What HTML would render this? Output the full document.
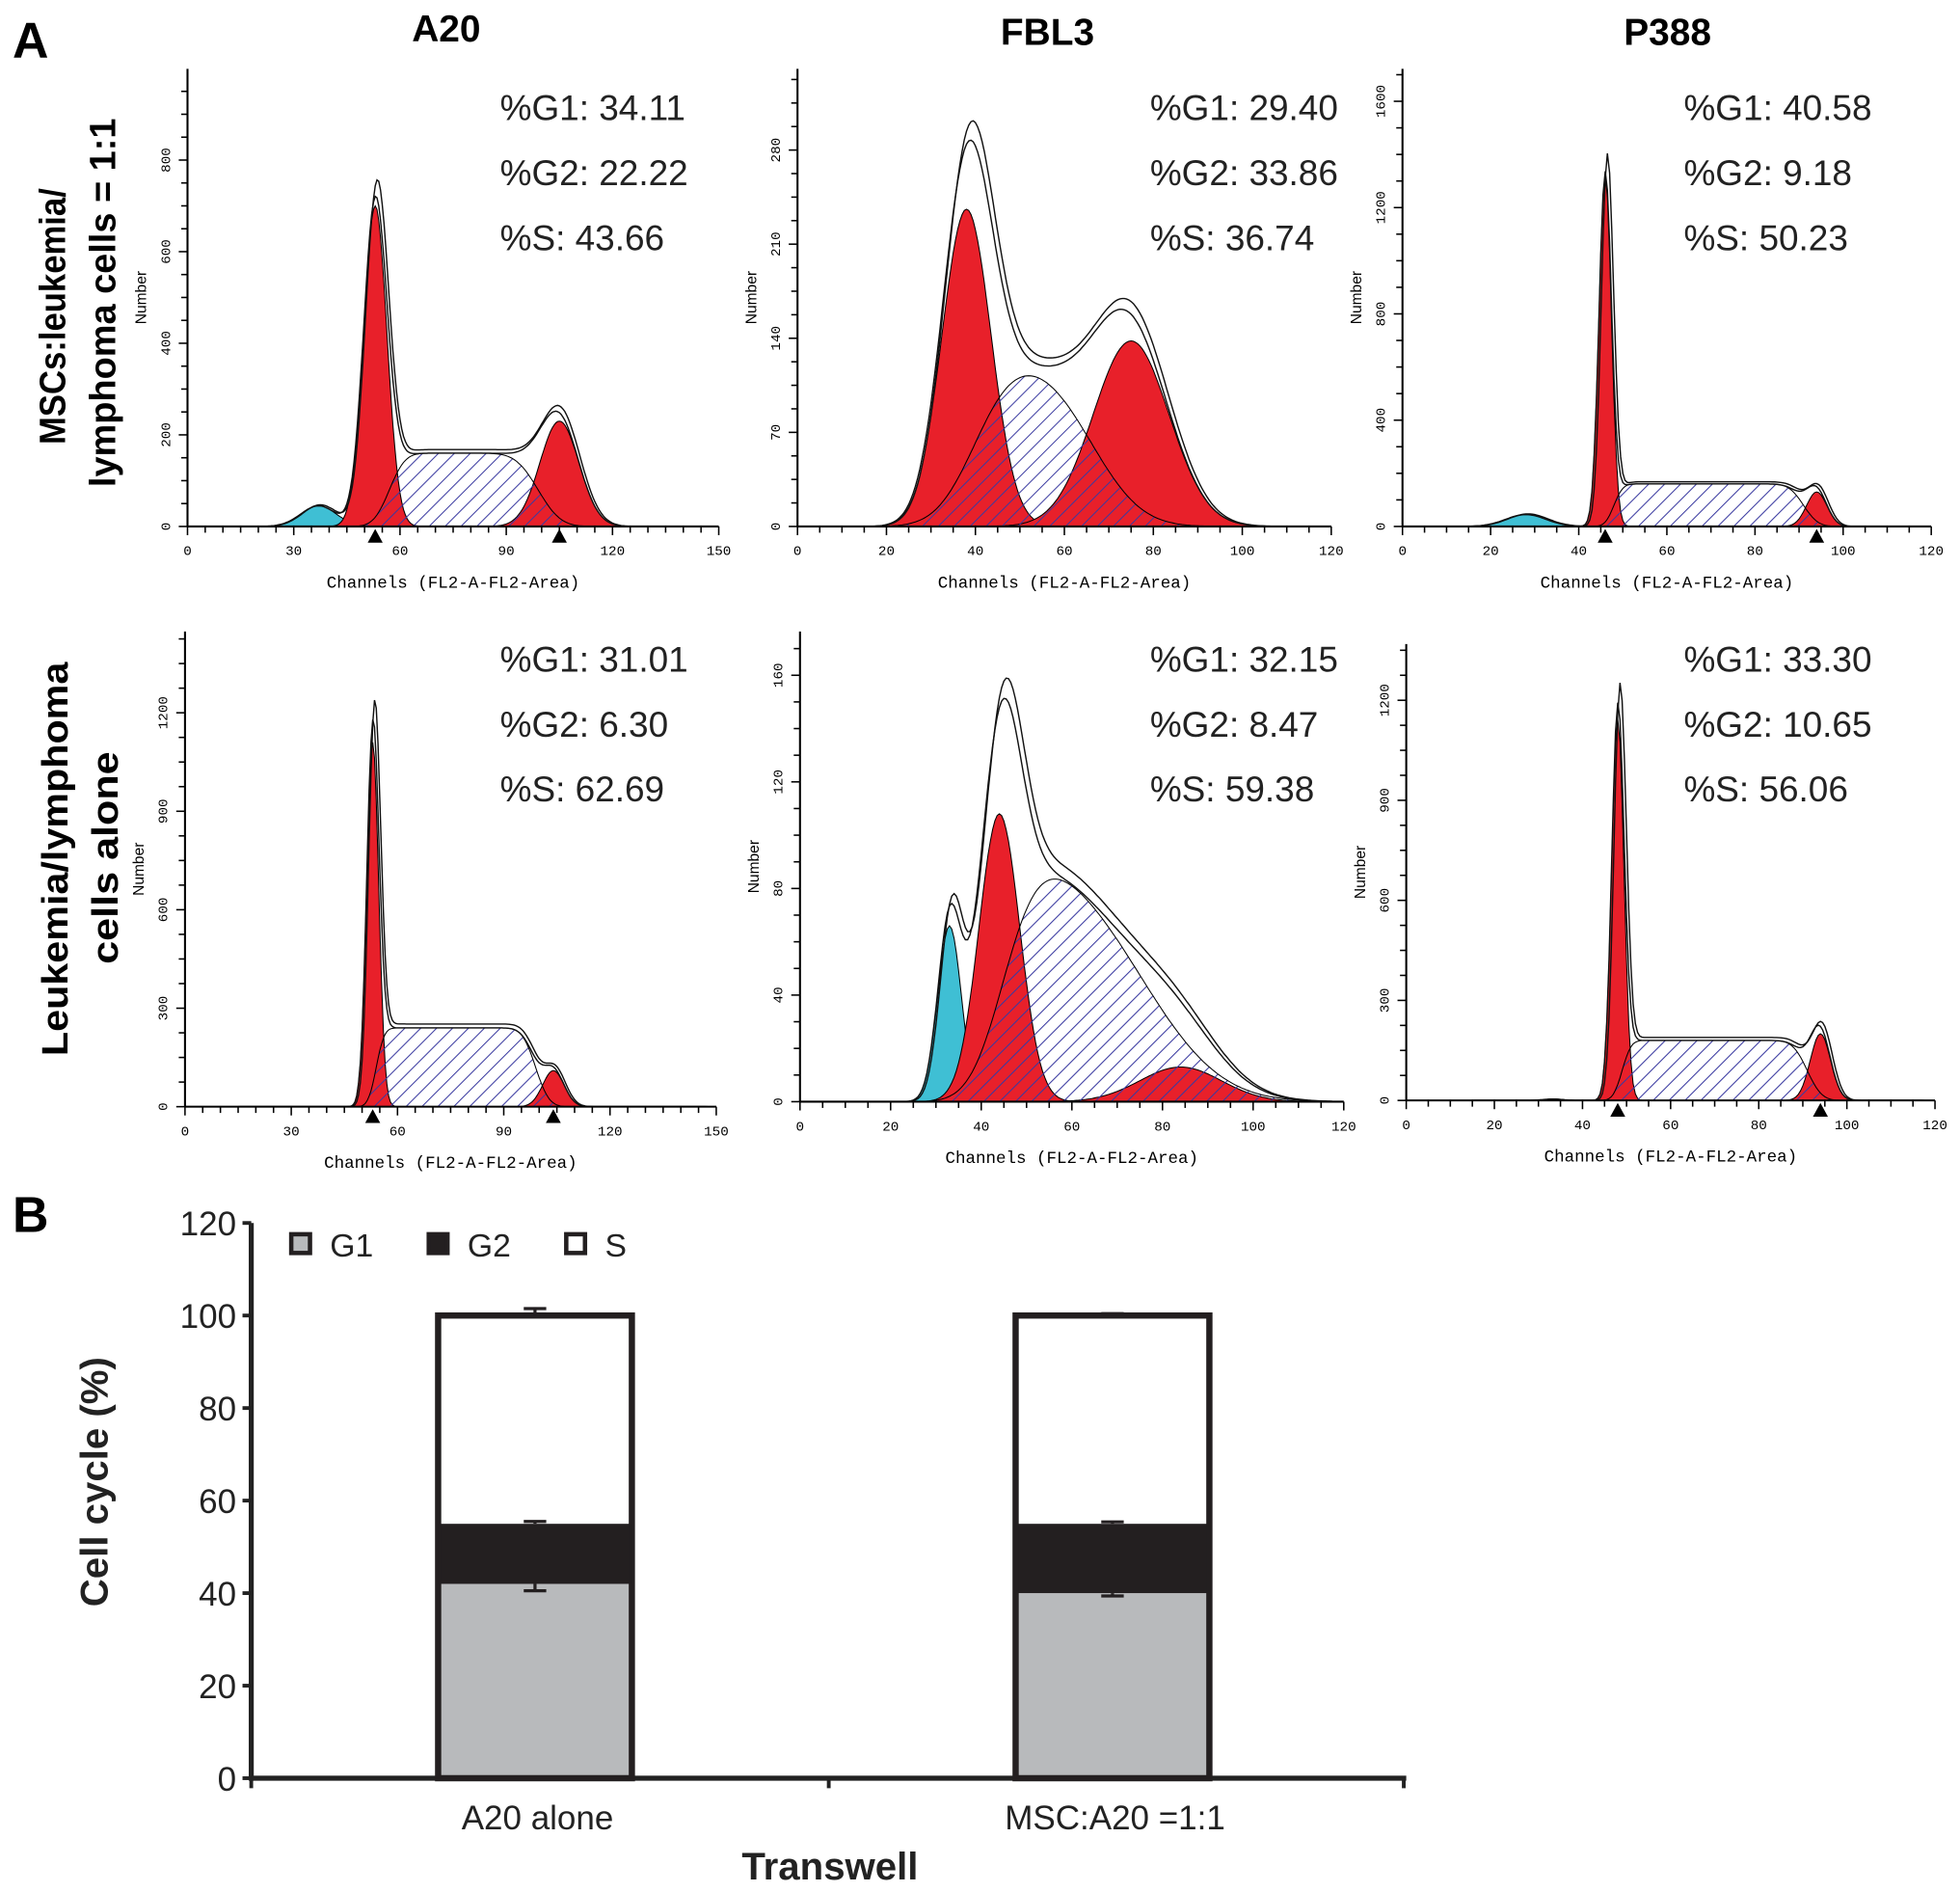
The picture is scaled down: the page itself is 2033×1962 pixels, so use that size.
<!DOCTYPE html>
<html><head><meta charset="utf-8">
<style>
html,body{margin:0;padding:0;background:#fff;}
svg{display:block;}
text{font-family:"Liberation Sans",sans-serif;}
.mono{font-family:"Liberation Mono","DejaVu Sans Mono",monospace;}
</style></head>
<body>
<svg id="fig" xmlns="http://www.w3.org/2000/svg" width="2033" height="1962" viewBox="0 0 1568 1513" preserveAspectRatio="none">
<defs>
<pattern id="hatch" patternUnits="userSpaceOnUse" width="9" height="9" patternTransform="rotate(45)">
<line x1="0" y1="0" x2="0" y2="9" stroke="#3a3aa0" stroke-width="1.6"/>
</pattern>
</defs>
<g id="partA">
<text x="10" y="46" font-size="40" font-weight="bold">A</text>
<text x="357" y="33" font-size="30" font-weight="bold" text-anchor="middle">A20</text>
<text x="838" y="36" font-size="30" font-weight="bold" text-anchor="middle">FBL3</text>
<text x="1334" y="36" font-size="30" font-weight="bold" text-anchor="middle">P388</text>
<text transform="translate(52,253) rotate(-90)" font-size="29" font-weight="bold" text-anchor="middle" textLength="205" lengthAdjust="spacingAndGlyphs">MSCs:leukemia/</text>
<text transform="translate(92,242) rotate(-90)" font-size="29" font-weight="bold" text-anchor="middle" textLength="295" lengthAdjust="spacingAndGlyphs">lymphoma cells = 1:1</text>
<text transform="translate(54,687) rotate(-90)" font-size="29" font-weight="bold" text-anchor="middle" textLength="315" lengthAdjust="spacingAndGlyphs">Leukemia/lymphoma</text>
<text transform="translate(94,686) rotate(-90)" font-size="29" font-weight="bold" text-anchor="middle" textLength="170" lengthAdjust="spacingAndGlyphs">cells alone</text>
<g id="hists"></g>
</g>
<g id="partB">
<text x="10" y="985" font-size="40" font-weight="bold">B</text>
<g id="bars"></g>
</g>
</svg>
<script>
// ---------- Part A histogram data (channel units / counts) ----------
const panelNames = ["a20-coculture","fbl3-coculture","p388-coculture","a20-alone","fbl3-alone","p388-alone"];
const statG1 = ["34.11","29.40","40.58","31.01","32.15","33.30"];
const statG2 = ["22.22","33.86","9.18","6.30","8.47","10.65"];
const statS  = ["43.66","36.74","50.23","62.69","59.38","56.06"];
// G1 peak: [mean, sd, amplitude]
const g1Peak = [[53,3.3,700],[38,5.5,236],[46,1.4,1320],[53,1.7,1110],[44,4.5,108],[48,1.4,1145]];
// G2 peak: [mean, sd, amplitude]
const g2Peak = [[105,5.5,230],[75,8.5,138],[94,2.3,130],[104,3,110],[84,9,13],[94,2.3,200]];
// S phase: [start, end, height, sdLeft, sdRight]
const sPhase = [[57,99,160,3.5,5],[40,66,125,7,9],[48,91,160,1.6,2.6],[54,99,240,1.8,3],[45,75,95,6,14],[49,91,180,1.6,2.6]];
// debris: [mean, sd, amplitude]
const debris = [[37,5,45],[0,1,0],[28,4.5,45],[0,1,0],[33,2.6,66],[33,2,4]];
const showMarkers = [true,false,true,true,false,true];
// axes tick labels
const xTickLabels = [[0,30,60,90,120,150],[0,20,40,60,80,100,120],[0,20,40,60,80,100,120],[0,30,60,90,120,150],[0,20,40,60,80,100,120],[0,20,40,60,80,100,120]];
const yTickLabels = [[0,200,400,600,800],[0,70,140,210,280],[0,400,800,1200,1600],[0,300,600,900,1200],[0,40,80,120,160],[0,300,600,900,1200]];
const xMax = [150,120,120,150,120,120];

// geometry (pixels in 1568x1513 space)
const geom = [
 {x0:150,x1:575,y0:421,top:55,sx:400,sy:86},
 {x0:638,x1:1065,y0:421,top:55,sx:920,sy:86},
 {x0:1122,x1:1545,y0:421,top:55,sx:1347,sy:86},
 {x0:148,x1:573,y0:885,top:505,sx:400,sy:527},
 {x0:640,x1:1075,y0:881,top:505,sx:920,sy:527},
 {x0:1125,x1:1548,y0:880,top:515,sx:1347,sy:527}
];
const NS="http://www.w3.org/2000/svg";
function mk(tag,attrs,parent){const e=document.createElementNS(NS,tag);for(const k in attrs)e.setAttribute(k,attrs[k]);if(parent)parent.appendChild(e);return e;}
function erf(x){const s=x<0?-1:1;x=Math.abs(x);const t=1/(1+0.3275911*x);const y=1-(((((1.061405429*t-1.453152027)*t)+1.421413741)*t-0.284496736)*t+0.254829592)*t*Math.exp(-x*x);return s*y;}
function Phi(z){return 0.5*(1+erf(z/Math.SQRT2));}
function gauss(x,p){return p[2]*Math.exp(-0.5*((x-p[0])/p[1])**2);}
function sval(x,p){return Math.max(0,p[2]*(Phi((x-p[0])/p[3])-Phi((x-p[1])/p[4])));}

const hists=document.getElementById('hists');
for(let i=0;i<6;i++){
 const g=geom[i];
 const grp=mk('g',{},hists);
 
 
 const X=c=>g.x0+(g.x1-g.x0)*c/xMax[i];
 const ymaxTick=yTickLabels[i][yTickLabels[i].length-1];
 const ytop=g.top+ (i==0?73:i==1?65:i==2?26:i==3?65:i==4?35:45);
 const Y=v=>g.y0-(g.y0-ytop)*v/ymaxTick;
 const start=15,end=xMax[i]-3,step=0.5;
 function areaPath(fn){let d='M'+X(start)+','+g.y0;for(let c=start;c<=end;c+=step){d+=' L'+X(c).toFixed(1)+','+Y(fn(c)).toFixed(1);}d+=' L'+X(end)+','+g.y0+' Z';return d;}
 function linePath(fn,dx){let d='';for(let c=start;c<=end;c+=step){d+=(d?' L':'M')+X(c+dx).toFixed(1)+','+Y(fn(c)).toFixed(1);}return d;}
 const total=c=>gauss(c,g1Peak[i])+gauss(c,g2Peak[i])+sval(c,sPhase[i])+gauss(c,debris[i]);
 let e=mk('path',{d:areaPath(c=>sval(c,sPhase[i])),fill:'#fff',stroke:'none'},grp);
 
 e=mk('path',{d:areaPath(c=>gauss(c,debris[i])),fill:'#3fbfd4',stroke:'#000','stroke-width':0.8},grp);
 
 e=mk('path',{d:areaPath(c=>gauss(c,g1Peak[i])),fill:'#e8202a',stroke:'#000','stroke-width':0.8},grp);
 
 e=mk('path',{d:areaPath(c=>gauss(c,g2Peak[i])),fill:'#e8202a',stroke:'#000','stroke-width':0.8},grp);
 
 e=mk('path',{d:areaPath(c=>sval(c,sPhase[i])),fill:'url(#hatch)',stroke:'#000','stroke-width':0.8},grp);
 
 e=mk('path',{d:linePath(c=>total(c)*1.05,0.5),fill:'none',stroke:'#111','stroke-width':1.1},grp);
 
 e=mk('path',{d:linePath(total,0),fill:'none',stroke:'#111','stroke-width':1.1},grp);
 
 e=mk('line',{x1:g.x0,y1:g.y0,x2:g.x1,y2:g.y0,stroke:'#000','stroke-width':1.6},grp);
 
 e=mk('line',{x1:g.x0,y1:g.y0,x2:g.x0,y2:g.top,stroke:'#000','stroke-width':1.6},grp);
 
 for(let c=0;c<=xMax[i];c+=5){mk('line',{x1:X(c),y1:g.y0,x2:X(c),y2:g.y0+(c%(xMax[i]==150?30:20)==0?7:5),stroke:'#000','stroke-width':1.2},grp);}
 xTickLabels[i].forEach(v=>{const t=mk('text',{x:X(v),y:g.y0+23,'font-size':11,'text-anchor':'middle',class:'mono'},grp);t.textContent=v;});
 const n=yTickLabels[i].length-1;
 for(let k=0;k<=n*4+4;k++){const v=ymaxTick*k/(n*4);const yy=Y(v);if(yy<g.top)break;mk('line',{x1:g.x0-(k%4==0?7:5),y1:yy,x2:g.x0,y2:yy,stroke:'#000','stroke-width':1.2},grp);}
 yTickLabels[i].forEach(v=>{const t=mk('text',{transform:`translate(${g.x0-14},${Y(v)}) rotate(-90)`,'font-size':11,'text-anchor':'middle',class:'mono'},grp);t.textContent=v;});
 let t=mk('text',{x:(g.x0+g.x1)/2,y:g.y0+49,'font-size':13.5,'text-anchor':'middle',class:'mono'},grp);t.textContent='Channels (FL2-A-FL2-Area)';
 
 t=mk('text',{transform:`translate(${g.x0-33},${(g.y0+g.top)/2+0}) rotate(-90)`,'font-size':12,'text-anchor':'middle'},grp);t.textContent='Number';
 
 if(showMarkers[i]){[g1Peak[i][0],g2Peak[i][0]].forEach(m=>{const tr=mk('path',{d:`M${X(m)-6},${g.y0+13} L${X(m)+6},${g.y0+13} L${X(m)},${g.y0+2} Z`,fill:'#000'},grp);});}
 const labs=['%G1: '+statG1[i],'%G2: '+statG2[i],'%S: '+statS[i]];
 labs.forEach((s,k)=>{const tt=mk('text',{x:g.sx,y:g.sy+k*52+10,'font-size':28.5,fill:'#222'},grp);tt.textContent=s;});
}

// ---------- Part B stacked bars ----------
const barCategories = ["A20 alone","MSC:A20 =1:1"];
const g1Values = [42,40];
const g2Values = [13,15];
const sValues  = [45,45];
const g1Err = [1.5,0.6];
const g2Err = [0.5,0.4];
const sErr  = [1.5,0.4];
const yTicksB = [0,20,40,60,80,100,120];

const B=document.getElementById('bars');
const bx0=201,bx1=1125,by0=1422,by120=978;
const YB=v=>by0-(by0-by120)*v/120;
const catCenters=[428,890];
const bw=155;
let e=mk('line',{x1:bx0,y1:by0,x2:bx1,y2:by0,stroke:'#222','stroke-width':4},B);

e=mk('line',{x1:bx0,y1:by0+2,x2:bx0,y2:by120,stroke:'#222','stroke-width':4},B);

[663,1123].forEach(x=>mk('line',{x1:x,y1:by0,x2:x,y2:by0+8,stroke:'#222','stroke-width':3},B));
mk('line',{x1:bx0,y1:by0,x2:bx0,y2:by0+8,stroke:'#222','stroke-width':3},B);
yTicksB.forEach(v=>{mk('line',{x1:bx0-7,y1:YB(v),x2:bx0,y2:YB(v),stroke:'#222','stroke-width':3},B);
 const t=mk('text',{x:bx0-12,y:YB(v)+10,'font-size':27,'text-anchor':'end',fill:'#222'},B);t.textContent=v;
 });
barCategories.forEach((c,i)=>{
 const cx=catCenters[i],x=cx-bw/2;
 const g=mk('g',{},B);
 const y1=YB(g1Values[i]),y2=YB(g1Values[i]+g2Values[i]),y3=YB(g1Values[i]+g2Values[i]+sValues[i]);
 let r=mk('rect',{x:x,y:y1,width:bw,height:by0-y1,fill:'#b8babc'},g);
 r=mk('rect',{x:x,y:y2,width:bw,height:y1-y2,fill:'#231f20'},g);
 r=mk('rect',{x:x,y:y3,width:bw,height:y2-y3,fill:'#fff'},g);
 mk('rect',{x:x,y:y3,width:bw,height:by0-y3,fill:'none',stroke:'#231f20','stroke-width':5},g);
 const e1=mk('path',{d:`M${cx},${y3} V${YB(100+sErr[i])} M${cx-9},${YB(100+sErr[i])} H${cx+9}`,stroke:'#231f20','stroke-width':2.5,fill:'none'},g);
 
 const e2=mk('path',{d:`M${cx},${y2} V${YB(g1Values[i]+g2Values[i]+g2Err[i])} M${cx-9},${YB(g1Values[i]+g2Values[i]+g2Err[i])} H${cx+9}`,stroke:'#231f20','stroke-width':2.5,fill:'none'},g);
 
 const e3=mk('path',{d:`M${cx},${y1} V${YB(g1Values[i]-g1Err[i])} M${cx-9},${YB(g1Values[i]-g1Err[i])} H${cx+9}`,stroke:'#231f20','stroke-width':2.5,fill:'none'},g);
 
 const t=mk('text',{x:cx+2,y:1463,'font-size':27,'text-anchor':'middle',fill:'#222'},B);t.textContent=c;
 
});
let tt=mk('text',{x:664,y:1503,'font-size':31,'font-weight':'bold','text-anchor':'middle',fill:'#222'},B);tt.textContent='Transwell';

tt=mk('text',{transform:'translate(86,1185) rotate(-90)','font-size':31,'font-weight':'bold','text-anchor':'middle',fill:'#222'},B);tt.textContent='Cell cycle (%)';

const legNames=['G1','G2','S'],legFill=['#b8babc','#231f20','#fff'],legX=[233,343,453];
legNames.forEach((n,k)=>{
 const g=mk('g',{},B);
 mk('rect',{x:legX[k],y:987,width:15,height:15,fill:legFill[k],stroke:'#231f20','stroke-width':3.5},g);
 const t=mk('text',{x:legX[k]+31,y:1005,'font-size':26,fill:'#222'},g);t.textContent=n;
});
</script>
</body></html>
